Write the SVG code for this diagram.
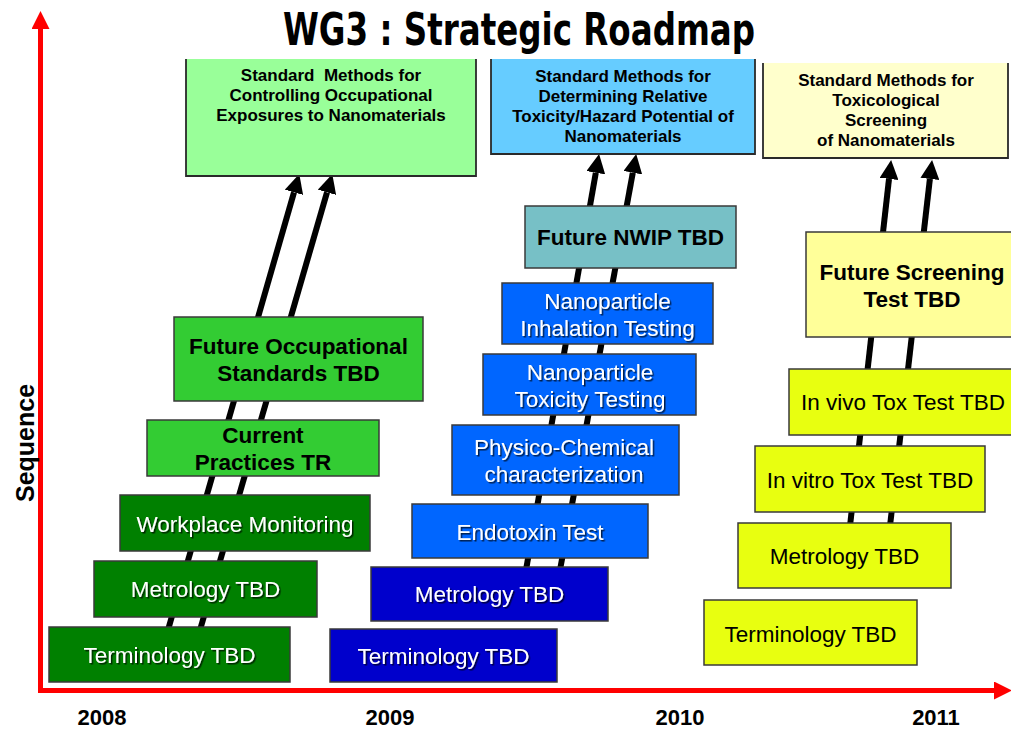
<svg xmlns="http://www.w3.org/2000/svg" width="1011" height="729" viewBox="0 0 1011 729">
<defs>
<style>
.box{stroke:#3a3a3a;stroke-width:1.5}
.t{font-family:"Liberation Sans",Arial,sans-serif;font-size:22.5px;text-anchor:middle}
.w{fill:#fff;filter:url(#sh)}
.k{fill:#000}
.b{font-weight:bold}
.top{font-family:"Liberation Sans",Arial,sans-serif;font-size:17px;font-weight:bold;text-anchor:middle;fill:#000}
.yr{font-family:"Liberation Sans",Arial,sans-serif;font-size:22px;font-weight:bold;text-anchor:middle;fill:#000}
.arr{stroke:#000;stroke-width:6;fill:none;marker-end:url(#ah)}
.axis{stroke:#ff0000;stroke-width:5;fill:none;marker-end:url(#rh)}
.dg{fill:#008000}.lg{fill:#33CC33}.pg{fill:#99FF99}
.db{fill:#0000CC}.mb{fill:#0066FF}.tl{fill:#77C0C6}.pb{fill:#66CCFF}
.yl{fill:#E8FF10}.py{fill:#FFFF99}.cy{fill:#FFFFCC}
</style>
<filter id="sh" x="-5%" y="-20%" width="115%" height="150%">
<feDropShadow dx="1.5" dy="1.5" stdDeviation="0.4" flood-color="#000" flood-opacity="0.7"/>
</filter>
<marker id="ah" viewBox="0 0 10 10" refX="0" refY="5" markerWidth="19" markerHeight="19" markerUnits="userSpaceOnUse" orient="auto">
<path d="M0,0 L10,5 L0,10 z" fill="#000"/>
</marker>
<marker id="rh" viewBox="0 0 10 10" refX="0" refY="5" markerWidth="18" markerHeight="18" markerUnits="userSpaceOnUse" orient="auto">
<path d="M0,0 L10,5 L0,10 z" fill="#ff0000"/>
</marker>
</defs>
<rect width="1011" height="729" fill="#fff"/>

<g id="title">
<text x="519" y="45" textLength="472" lengthAdjust="spacingAndGlyphs" style="font-family:'Liberation Sans Narrow','DejaVu Sans Condensed',sans-serif;font-size:44px;font-weight:bold;text-anchor:middle;fill:#000">WG3 : Strategic Roadmap</text>
</g>

<g id="axes">
<line class="axis" x1="40.5" y1="693" x2="40.5" y2="29"/>
<line class="axis" x1="38" y1="690.5" x2="994" y2="690.5"/>
<text transform="translate(34,443) rotate(-90)" style="font-family:'Liberation Sans',Arial,sans-serif;font-size:25px;font-weight:bold;text-anchor:middle;fill:#000">Sequence</text>
<text class="yr" x="102" y="725">2008</text>
<text class="yr" x="390" y="725">2009</text>
<text class="yr" x="680" y="725">2010</text>
<text class="yr" x="936" y="725">2011</text>
</g>

<g id="connectors">
<line class="arr" x1="168" y1="630" x2="294" y2="192.3"/>
<line class="arr" x1="200" y1="630" x2="327" y2="192.3"/>
<line class="arr" x1="526" y1="570" x2="595.8" y2="172.7"/>
<line class="arr" x1="560" y1="570" x2="632.8" y2="172.7"/>
<line class="arr" x1="850" y1="526" x2="889" y2="178.9"/>
<line class="arr" x1="890" y1="526" x2="929.9" y2="178.9"/>
</g>

<g id="g1-goal">
<rect class="pg" x="186" y="59" width="290" height="117"/>
<path d="M186,59 V176 H476 V59" fill="none" stroke="#2a2a2a" stroke-width="1.8"/>
<text class="top" x="331" y="81" xml:space="preserve">Standard  Methods for</text>
<text class="top" x="331" y="101">Controlling Occupational</text>
<text class="top" x="331" y="121">Exposures to Nanomaterials</text>
</g>
<g id="g2-goal">
<rect class="pb" x="491" y="59" width="264" height="95"/>
<path d="M491,59 V154 H755 V59" fill="none" stroke="#2a2a2a" stroke-width="1.8"/>
<text class="top" x="623" y="82">Standard Methods for</text>
<text class="top" x="623" y="102">Determining Relative</text>
<text class="top" x="623" y="122">Toxicity/Hazard Potential of</text>
<text class="top" x="623" y="142">Nanomaterials</text>
</g>
<g id="g3-goal">
<rect class="cy" x="763" y="63" width="245" height="95"/>
<path d="M763,63 V158 H1008 V63" fill="none" stroke="#2a2a2a" stroke-width="1.8"/>
<text class="top" x="886" y="86">Standard Methods for</text>
<text class="top" x="886" y="106">Toxicological</text>
<text class="top" x="886" y="126">Screening</text>
<text class="top" x="886" y="146">of Nanomaterials</text>
</g>

<g id="g1-term"><rect class="box dg" x="49" y="627" width="241" height="55"/><text class="t w" x="169.5" y="663">Terminology TBD</text></g>
<g id="g1-metro"><rect class="box dg" x="94" y="561" width="223" height="56"/><text class="t w" x="205.5" y="597">Metrology TBD</text></g>
<g id="g1-work"><rect class="box dg" x="120" y="495" width="250" height="56"/><text class="t w" x="245" y="532">Workplace Monitoring</text></g>
<g id="g1-current"><rect class="box lg" x="147" y="420" width="232" height="56"/><text class="t k b" x="263" y="443">Current</text><text class="t k b" x="263" y="470">Practices TR</text></g>
<g id="g1-future"><rect class="box lg" x="174" y="317" width="249" height="84"/><text class="t k b" x="298.5" y="354">Future Occupational</text><text class="t k b" x="298.5" y="381">Standards TBD</text></g>

<g id="g2-term"><rect class="box db" x="330" y="629" width="227" height="53"/><text class="t w" x="443.5" y="664">Terminology TBD</text></g>
<g id="g2-metro"><rect class="box db" x="371" y="567" width="237" height="54"/><text class="t w" x="489.5" y="602">Metrology TBD</text></g>
<g id="g2-endo"><rect class="box mb" x="412" y="504" width="236" height="54"/><text class="t w" x="530" y="540">Endotoxin Test</text></g>
<g id="g2-phys"><rect class="box mb" x="452" y="425" width="227" height="70"/><text class="t w" x="564" y="455">Physico-Chemical</text><text class="t w" x="564" y="482">characterization</text></g>
<g id="g2-tox"><rect class="box mb" x="483" y="354" width="213" height="61"/><text class="t w" x="590" y="380">Nanoparticle</text><text class="t w" x="590" y="407">Toxicity Testing</text></g>
<g id="g2-inh"><rect class="box mb" x="502" y="283" width="211" height="61"/><text class="t w" x="607.5" y="309">Nanoparticle</text><text class="t w" x="607.5" y="336">Inhalation Testing</text></g>
<g id="g2-nwip"><rect class="box tl" x="525" y="206" width="211" height="62"/><text class="t k b" x="630.5" y="245">Future NWIP TBD</text></g>

<g id="g3-term"><rect class="box yl" x="704" y="600" width="213" height="65"/><text class="t k" x="810.5" y="642">Terminology TBD</text></g>
<g id="g3-metro"><rect class="box yl" x="738" y="523" width="213" height="65"/><text class="t k" x="844.5" y="564">Metrology TBD</text></g>
<g id="g3-vitro"><rect class="box yl" x="755" y="446" width="230" height="66"/><text class="t k" x="870" y="488">In vitro Tox Test TBD</text></g>
<g id="g3-vivo"><rect class="box yl" x="789" y="369" width="228" height="66"/><text class="t k" x="903" y="410">In vivo Tox Test TBD</text></g>
<g id="g3-future"><rect class="box py" x="806" y="232" width="212" height="105"/><text class="t k b" x="912" y="280">Future Screening</text><text class="t k b" x="912" y="307">Test TBD</text></g>
</svg>
